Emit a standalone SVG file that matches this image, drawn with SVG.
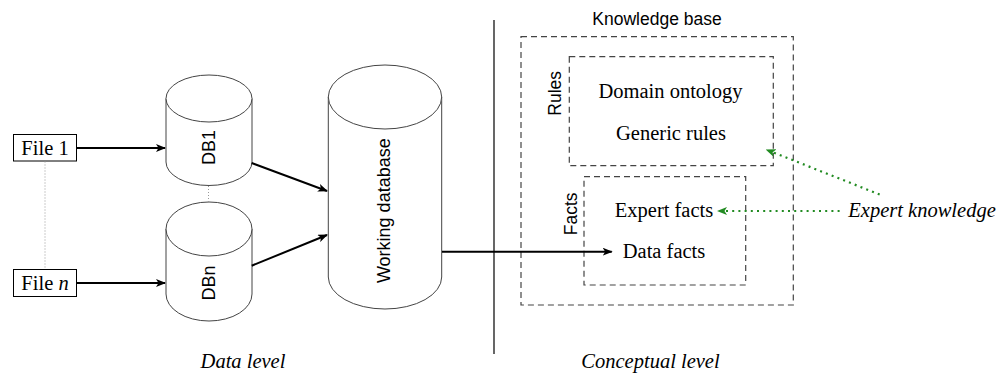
<svg xmlns="http://www.w3.org/2000/svg" width="1000" height="373" viewBox="0 0 1000 373">
  <defs>
    <marker id="arrow-black" viewBox="0 0 10 8" refX="9" refY="4" markerWidth="10" markerHeight="8" markerUnits="userSpaceOnUse" orient="auto">
      <path d="M0,0 L10,4 L0,8 L2.5,4 z" fill="#000"/>
    </marker>
    <marker id="arrow-green" viewBox="0 0 10 8" refX="1" refY="4" markerWidth="10" markerHeight="8" markerUnits="userSpaceOnUse" orient="auto-start-reverse">
      <path d="M0,0 L10,4 L0,8 L2.5,4 z" fill="#228b22"/>
    </marker>
  </defs>
  <style>
    .serif { font-family: "Liberation Serif", "Times New Roman", serif; font-size: 20.5px; fill: #000; }
    .ital { font-style: italic; }
    .sans { font-family: "Liberation Sans", Arial, sans-serif; font-size: 18px; fill: #000; }
    .box { fill: #fff; stroke: #000; stroke-width: 1; }
    .cyl { fill: #fff; stroke: #444; stroke-width: 1; }
    .dashbox { fill: none; stroke: #444; stroke-width: 1.2; stroke-dasharray: 6 4; }
    .flow { fill: none; stroke: #000; stroke-width: 2; marker-end: url(#arrow-black); }
    .hint { fill: none; stroke: #228b22; stroke-width: 2.2; stroke-dasharray: 2 4.2; marker-start: url(#arrow-green); }
    .gap { fill: none; stroke: #999; stroke-width: 1; stroke-dasharray: 1 2; }
  </style>

  <!-- data sources -->
  <g id="file1">
    <rect class="box" x="13.5" y="134.5" width="63" height="26.5"/>
    <text class="serif" x="45" y="155" text-anchor="middle">File 1</text>
  </g>
  <g id="filen">
    <rect class="box" x="13.5" y="269.5" width="63" height="27"/>
    <text class="serif" x="45" y="290" text-anchor="middle">File <tspan class="ital">n</tspan></text>
  </g>

  <!-- databases -->
  <g id="db1">
    <path class="cyl" d="M166,98.5 L166,162 A43,23.5 0 0 0 252,162 L252,98.5"/>
    <ellipse class="cyl" cx="209" cy="98.5" rx="43" ry="23.5"/>
    <text class="sans" transform="translate(209,147.5) rotate(-90)" x="0" y="6.4" text-anchor="middle">DB1</text>
  </g>
  <g id="dbn">
    <path class="cyl" d="M166,229 L166,294 A43,27 0 0 0 252,294 L252,229"/>
    <ellipse class="cyl" cx="209" cy="229" rx="43" ry="27"/>
    <text class="sans" transform="translate(209,283) rotate(-90)" x="0" y="6.4" text-anchor="middle">DBn</text>
  </g>
  <g id="workingdb">
    <path class="cyl" d="M328.3,97 L328.3,277 A56.7,32 0 0 0 441.7,277 L441.7,97"/>
    <ellipse class="cyl" cx="385" cy="97" rx="56.7" ry="32"/>
    <text class="sans" transform="translate(384,210.7) rotate(-90)" x="0" y="6.4" text-anchor="middle">Working database</text>
  </g>

  <!-- level separator -->
  <g id="separator">
    <line x1="494" y1="20" x2="494" y2="354" stroke="#000" stroke-width="1.2"/>
  </g>

  <!-- knowledge base -->
  <g id="knowledgebase">
    <text class="sans" x="657" y="25" text-anchor="middle" style="font-size:17.5px">Knowledge base</text>
    <rect class="dashbox" x="521" y="36.7" width="272.3" height="268.3"/>
  </g>
  <g id="rules">
    <rect class="dashbox" x="569.3" y="56.7" width="204" height="109"/>
    <text class="sans" transform="translate(554.7,93.3) rotate(-90)" x="0" y="6.2" text-anchor="middle" style="font-size:17.5px">Rules</text>
    <text class="serif" x="670.5" y="98" text-anchor="middle">Domain ontology</text>
    <text class="serif" x="671" y="140" text-anchor="middle">Generic rules</text>
  </g>
  <g id="facts">
    <rect class="dashbox" x="584" y="176.7" width="161.7" height="108.3"/>
    <text class="sans" transform="translate(570.5,213.8) rotate(-90)" x="0" y="6.2" text-anchor="middle" style="font-size:17.5px">Facts</text>
    <text class="serif" x="664" y="216.7" text-anchor="middle">Expert facts</text>
    <text class="serif" x="664" y="258.3" text-anchor="middle">Data facts</text>
  </g>
  <g id="expertknowledge">
    <text class="serif ital" x="848.3" y="217.3">Expert knowledge</text>
  </g>

  <!-- level captions -->
  <g id="captions">
    <text class="serif ital" x="243" y="368" text-anchor="middle">Data level</text>
    <text class="serif ital" x="650.5" y="368" text-anchor="middle">Conceptual level</text>
  </g>

  <!-- connectors -->
  <g id="connectors">
    <line class="gap" x1="45" y1="161.5" x2="45" y2="269"/>
    <line class="gap" x1="208.5" y1="186" x2="208.5" y2="202"/>
    <line class="flow" x1="77" y1="148" x2="165" y2="148"/>
    <line class="flow" x1="77" y1="283" x2="165" y2="283"/>
    <line class="flow" x1="251.7" y1="163" x2="327" y2="191"/>
    <line class="flow" x1="251.7" y1="265.7" x2="327" y2="235"/>
    <line class="flow" x1="442" y1="251.7" x2="611.7" y2="251.7"/>
    <line class="hint" x1="726" y1="211" x2="840" y2="211"/>
    <line class="hint" x1="774" y1="152.7" x2="882.7" y2="195.7"/>
  </g>
</svg>
